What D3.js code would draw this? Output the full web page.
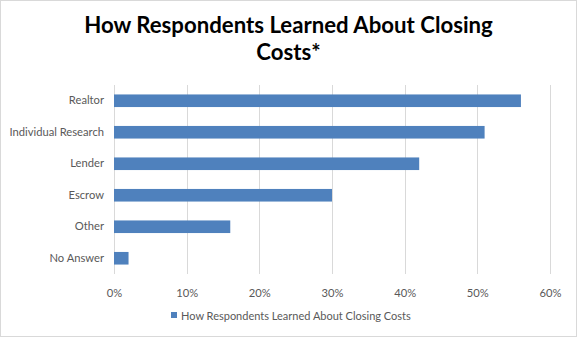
<!DOCTYPE html>
<html><head><meta charset="utf-8">
<script src="https://cdn.jsdelivr.net/npm/d3@7"></script>
<style>body{margin:0;background:#fff}svg{display:block}</style>
</head><body>
<script>
const categories = ["Realtor","Individual Research","Lender","Escrow","Other","No Answer"];
const values = [56, 51, 42, 30, 16, 2];
const tickValues = [0,10,20,30,40,50,60];
const seriesName = "How Respondents Learned About Closing Costs";
const titleLines = ["How Respondents Learned About Closing","Costs*"];

const W=577,H=337;
const svg=d3.select("body").append("svg").attr("width",W).attr("height",H);
svg.append("rect").attr("x",0.5).attr("y",0.5).attr("width",W-1).attr("height",H-1)
  .attr("fill","#fff").attr("stroke","#d9d9d9");

const m={left:114,right:27,top:85,bottom:63};
const x=d3.scaleLinear().domain([0,60]).range([m.left,W-m.right]);
const y=d3.scaleBand().domain(categories).range([m.top,H-m.bottom]).paddingInner(0.6).paddingOuter(0.3);

const font="Lato, 'Open Sans', sans-serif";
svg.append("g").selectAll("line").data(tickValues).join("line")
  .attr("x1",d=>Math.round(x(d))+0.5).attr("x2",d=>Math.round(x(d))+0.5)
  .attr("y1",m.top).attr("y2",H-m.bottom).attr("stroke","#d9d9d9").attr("stroke-width",1);

svg.append("g").selectAll("rect").data(values).join("rect")
  .attr("x",x(0)).attr("y",(d,i)=>y(categories[i]))
  .attr("width",d=>x(d)-x(0)).attr("height",y.bandwidth()).attr("fill","#4f81bd");

const yAxis=svg.append("g").attr("transform",`translate(${m.left-10},0)`)
  .call(d3.axisLeft(y).tickSize(0).tickPadding(0));
yAxis.select(".domain").remove();
yAxis.selectAll("text").attr("font-family",font).attr("font-size",11.2).attr("fill","#595959");

const xAxis=svg.append("g").attr("transform",`translate(0,${H-m.bottom})`)
  .call(d3.axisBottom(x).tickValues(tickValues).tickFormat(d=>d+"%").tickSize(0).tickPadding(15));
xAxis.select(".domain").remove();
xAxis.selectAll("text").attr("font-family",font).attr("font-size",11.2).attr("fill","#595959");

svg.append("g").selectAll("text").data(titleLines).join("text")
  .attr("x",288.5).attr("y",(d,i)=>33+i*27).attr("text-anchor","middle")
  .attr("font-family",font).attr("font-weight","bold").attr("font-size",22.2).attr("fill","#000")
  .text(d=>d);

const lg=svg.append("g");
lg.append("rect").attr("x",171).attr("y",312).attr("width",6).attr("height",6).attr("fill","#4f81bd");
lg.append("text").attr("x",181).attr("y",319.5).attr("font-family",font).attr("font-size",11)
  .attr("fill","#595959").text(seriesName);
</script>
</body></html>
